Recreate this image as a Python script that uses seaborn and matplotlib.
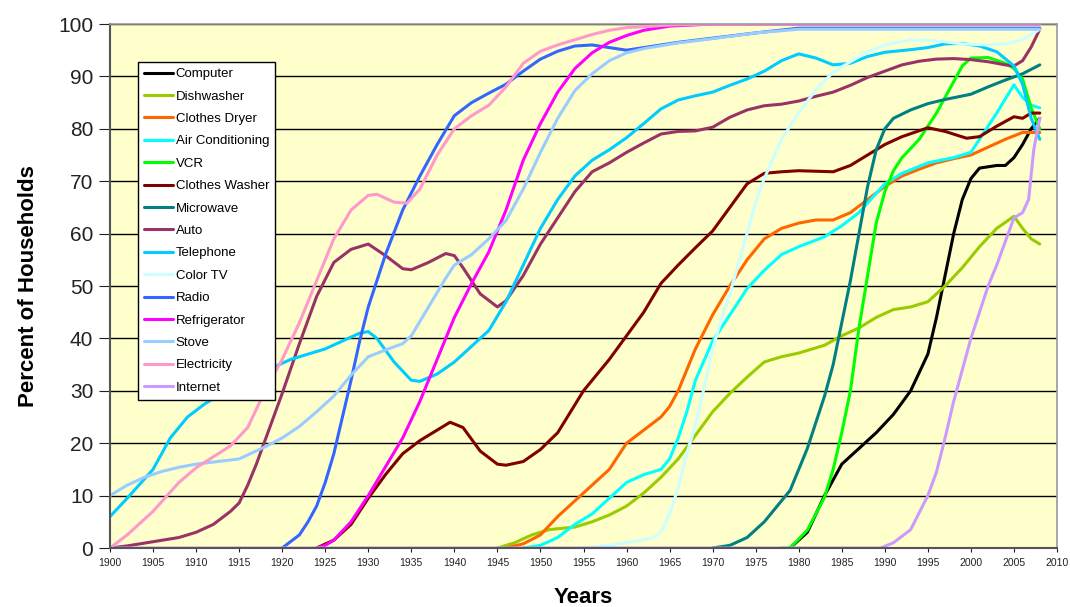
import pandas as pd
import matplotlib
matplotlib.use("Agg")
import matplotlib.pyplot as plt
import seaborn as sns

# Household adoption data (percent of households)
computer_years = [1979, 1981, 1983, 1985, 1987, 1989, 1991, 1993, 1995, 1996, 1997, 1998, 1999, 2000, 2001, 2003, 2004, 2005, 2006, 2007, 2008]
computer_vals = [0, 3, 10, 16, 19, 22, 25.5, 30, 37, 44, 52, 60, 66.5, 70.5, 72.5, 73, 73, 74.5, 77, 80, 82]

dishwasher_years = [1945, 1947, 1949, 1951, 1954, 1956, 1958, 1960, 1962, 1964, 1966, 1968, 1970, 1972, 1974, 1976, 1978, 1980, 1983, 1985, 1987, 1989, 1991, 1993, 1995, 1997, 1999, 2001, 2003, 2005, 2006, 2007, 2008]
dishwasher_vals = [0, 1, 2.5, 3.5, 4, 5, 6.3, 8, 10.5, 13.5, 17, 21.5, 26, 29.5, 32.6, 35.5, 36.5, 37.2, 38.7, 40.5, 42, 44, 45.5, 46, 47, 50, 53.5, 57.5, 61, 63.3, 61, 59, 58]

dryer_years = [1946, 1948, 1950, 1952, 1954, 1956, 1958, 1960, 1962, 1964, 1965, 1966, 1968, 1970, 1972, 1974, 1976, 1978, 1980, 1982, 1984, 1986, 1988, 1990, 1992, 1994, 1996, 1998, 2000, 2002, 2004, 2006, 2008]
dryer_vals = [0, 0.8, 2.5, 6, 9, 12, 15, 20, 22.5, 25, 27, 30, 38, 44.5, 50, 55, 59, 61, 62, 62.6, 62.6, 64, 66.5, 69, 71, 72.3, 73.5, 74.3, 75, 76.5, 78, 79.3, 79.3]

aircon_years = [1948, 1950, 1952, 1954, 1956, 1958, 1960, 1962, 1964, 1965, 1966, 1967, 1968, 1970, 1972, 1974, 1976, 1978, 1980, 1983, 1985, 1987, 1990, 1992, 1995, 1998, 2000, 2001, 2003, 2005, 2006, 2007, 2008]
aircon_vals = [0, 0.5, 2, 4.5, 6.5, 9.5, 12.5, 14, 15, 17, 21, 26, 32, 39.5, 44.5, 49.5, 53, 56, 57.5, 59.4, 61.5, 64, 69.5, 71.5, 73.5, 74.5, 75.5, 78, 83, 88.4, 86, 84.5, 84]

vcr_years = [1978, 1979, 1981, 1983, 1984, 1985, 1986, 1987, 1988, 1989, 1990, 1991, 1992, 1994, 1996, 1998, 1999, 2000, 2002, 2004, 2005, 2006, 2007, 2008]
vcr_vals = [0, 0, 3.4, 9.7, 15, 22, 30, 42, 52, 62, 68, 72, 74.5, 78, 83, 89, 92, 93.5, 93.6, 92.5, 91.5, 89.5, 84, 80]

washer_years = [1924, 1926, 1928, 1930, 1932, 1934, 1936, 1938, 1939.5, 1941, 1943, 1945, 1946, 1948, 1950, 1952, 1955, 1958, 1960, 1962, 1964, 1966, 1968, 1970, 1972, 1974, 1976, 1978, 1980, 1984, 1986, 1988, 1990, 1992, 1995, 1997, 1999.5, 2001, 2003, 2005, 2006, 2007, 2008]
washer_vals = [0, 1.5, 4.5, 9.5, 14, 18, 20.5, 22.5, 24, 23, 18.5, 16, 15.8, 16.5, 18.8, 22, 30, 36, 40.5, 45, 50.5, 54, 57.3, 60.5, 65, 69.5, 71.5, 71.8, 72, 71.8, 73, 75, 77, 78.5, 80.2, 79.5, 78.2, 78.5, 80.5, 82.3, 82, 83, 83]

microwave_years = [1970, 1972, 1974, 1976, 1978, 1979, 1981, 1983, 1984, 1985, 1986, 1987, 1988, 1989, 1990, 1991, 1993, 1995, 1997, 2000, 2002, 2004, 2006, 2008]
microwave_vals = [0, 0.5, 2, 5, 9, 11, 19, 29, 35, 43, 51, 60, 69, 76, 80, 82, 83.6, 84.8, 85.6, 86.6, 88, 89.3, 90.5, 92.2]

auto_years = [1900, 1902, 1905, 1908, 1910, 1912, 1914, 1915, 1916, 1917, 1918, 1920, 1922, 1924, 1926, 1928, 1930, 1932, 1934, 1935, 1937, 1939, 1940, 1941, 1943, 1945, 1946, 1948, 1950, 1952, 1954, 1956, 1958, 1960, 1962, 1964, 1966, 1968, 1970, 1972, 1974, 1976, 1978, 1980, 1982, 1984, 1986, 1988, 1990, 1992, 1994, 1996, 1998, 2000, 2002, 2004, 2005, 2006, 2007, 2008]
auto_vals = [0, 0.4, 1.2, 2, 3, 4.5, 7, 8.6, 12, 16, 20.5, 29.5, 39, 48, 54.5, 57, 58, 55.8, 53.3, 53.1, 54.5, 56.2, 55.8, 53.5, 48.5, 46, 47.2, 52, 58, 63, 68, 71.8, 73.5, 75.5, 77.3, 79, 79.5, 79.6, 80.3, 82.2, 83.6, 84.4, 84.7, 85.3, 86.2, 87, 88.3, 89.8, 91, 92.2, 92.9, 93.3, 93.4, 93.2, 92.8, 92.2, 92, 93, 95.6, 99]

phone_years = [1900, 1902, 1905, 1907, 1909, 1911, 1913, 1915, 1917, 1919, 1921, 1923, 1925, 1927, 1929, 1930, 1931, 1933, 1935, 1936, 1938, 1940, 1942, 1944, 1946, 1948, 1950, 1952, 1954, 1956, 1958, 1960, 1962, 1964, 1966, 1968, 1970, 1972, 1974, 1976, 1978, 1980, 1982, 1984, 1986, 1988, 1990, 1993, 1995, 1997, 1999, 2001, 2003, 2005, 2006, 2007, 2008]
phone_vals = [6, 9.5, 15, 21, 25, 27.5, 29.5, 31, 33, 34.5, 36, 37, 38, 39.5, 41, 41.3, 40, 35.5, 32, 31.8, 33.2, 35.5, 38.5, 41.5, 47, 54, 61, 66.5, 71, 74, 76, 78.3, 81, 83.8, 85.5, 86.3, 87, 88.3, 89.5, 91, 93, 94.3, 93.5, 92.2, 92.5, 93.8, 94.6, 95.1, 95.5, 96.2, 96.3, 95.8, 94.7, 92, 88.5, 82, 78]

colortv_years = [1955, 1958, 1960, 1963, 1964, 1965, 1966, 1967, 1968, 1969, 1970, 1971, 1972, 1974, 1975, 1976, 1978, 1980, 1982, 1984, 1986, 1988, 1990, 1993, 1996, 1999, 2002, 2004, 2006, 2007, 2008]
colortv_vals = [0, 0.5, 1, 1.9, 3, 6.5, 11.5, 18, 23.5, 30.5, 38, 43.5, 48.5, 60, 66, 70.5, 78, 83, 87.5, 90.8, 92.8, 94.7, 96, 97, 96.8, 96.2, 96, 96.2, 97, 98, 99]

radio_years = [1920, 1922, 1923, 1924, 1925, 1926, 1927, 1928, 1929, 1930, 1931, 1932, 1934, 1936, 1938, 1940, 1942, 1944, 1946, 1948, 1950, 1952, 1954, 1956, 1958, 1960, 1962, 1966, 1970, 1975, 1980, 2008]
radio_vals = [0, 2.5, 5, 8, 12.5, 18, 25, 32, 39.5, 46, 51, 56, 64.5, 71, 77, 82.5, 85, 86.8, 88.5, 91, 93.3, 94.8, 95.8, 96, 95.5, 95, 95.5, 96.5, 97.3, 98.3, 99.2, 99.2]

fridge_years = [1924, 1925, 1926, 1928, 1930, 1932, 1934, 1936, 1938, 1940, 1942, 1944, 1946, 1948, 1950, 1952, 1954, 1956, 1958, 1960, 1962, 1965, 1970, 2008]
fridge_vals = [0, 0.5, 1.5, 5, 10, 15.5, 21, 28, 36, 44, 50.5, 56.5, 64.5, 74, 81, 87, 91.5, 94.5, 96.5, 97.8, 98.8, 99.6, 100, 100]

stove_years = [1900, 1902, 1904, 1906, 1908, 1910, 1912, 1915, 1918, 1920, 1922, 1924, 1926, 1928, 1930, 1932, 1934, 1935, 1937, 1939, 1940, 1942, 1944, 1946, 1948, 1950, 1952, 1954, 1956, 1958, 1960, 1962, 1966, 1970, 1975, 1980, 2008]
stove_vals = [10, 12, 13.5, 14.6, 15.4, 16, 16.4, 17, 19.3, 21, 23.2, 26, 29, 33, 36.5, 37.8, 39, 40.5, 46, 51.5, 54, 56, 59, 62.5, 68.5, 75.5, 82, 87.3, 90.5, 93, 94.5, 95.3, 96.4, 97.2, 98.3, 99, 99]

electric_years = [1900, 1902, 1905, 1908, 1910, 1912, 1914, 1916, 1918, 1920, 1922, 1924, 1926, 1928, 1930, 1931, 1933, 1934.5, 1936, 1938, 1940, 1942, 1944, 1946, 1948, 1950, 1952, 1954, 1956, 1958, 1960, 1965, 1970, 2008]
electric_vals = [0, 2.5, 7, 12.5, 15.3, 17.4, 19.5, 23, 30, 36, 43, 51, 59, 64.5, 67.3, 67.5, 66, 65.8, 68.5, 75, 80, 82.5, 84.5, 88, 92.5, 94.8, 96, 97, 98, 98.8, 99.3, 99.8, 100, 100]

internet_years = [1900, 1989.5, 1991, 1993, 1995, 1996, 1997, 1998, 1999, 2000, 2001, 2002, 2003, 2004, 2005, 2006, 2006.7, 2007.3, 2008]
internet_vals = [0, 0, 1, 3.5, 10, 14.5, 21, 28, 34, 40, 45, 50, 54, 58.5, 63, 64, 66.5, 76, 82]

series = {
    "Computer": (computer_years, computer_vals),
    "Dishwasher": (dishwasher_years, dishwasher_vals),
    "Clothes Dryer": (dryer_years, dryer_vals),
    "Air Conditioning": (aircon_years, aircon_vals),
    "VCR": (vcr_years, vcr_vals),
    "Clothes Washer": (washer_years, washer_vals),
    "Microwave": (microwave_years, microwave_vals),
    "Auto": (auto_years, auto_vals),
    "Telephone": (phone_years, phone_vals),
    "Color TV": (colortv_years, colortv_vals),
    "Radio": (radio_years, radio_vals),
    "Refrigerator": (fridge_years, fridge_vals),
    "Stove": (stove_years, stove_vals),
    "Electricity": (electric_years, electric_vals),
    "Internet": (internet_years, internet_vals),
}

colors = ["#000000", "#99CC00", "#FF6600", "#00FFFF", "#00FF00", "#800000", "#008080",
          "#993366", "#00CCFF", "#CCFFFF", "#3366FF", "#FF00FF", "#99CCFF", "#FF99CC", "#CC99FF"]

# Long format table
rows = []
for name, (yrs, vals) in series.items():
    for x, v in zip(yrs, vals):
        rows.append({"Year": x, "Percent": v, "Item": name})
df = pd.DataFrame(rows)

sns.set_style("white")
plt.rcParams["font.family"] = ["Liberation Sans", "DejaVu Sans"]
plt.rcParams["text.color"] = "black"
plt.rcParams["axes.labelcolor"] = "black"
plt.rcParams["xtick.color"] = "#222222"
plt.rcParams["ytick.color"] = "#222222"

fig = plt.figure(figsize=(10.7, 6.07), dpi=100)
ax = fig.add_axes([110 / 1070, 59 / 607, 947 / 1070, 524 / 607])
ax.set_facecolor("#FFFFCC")

names = list(series.keys())
sns.lineplot(data=df, x="Year", y="Percent", hue="Item", hue_order=names,
             palette=dict(zip(names, colors)), estimator=None, linewidth=2.2, ax=ax)

ax.set_xlim(1900, 2010)
ax.set_ylim(0, 100)
ax.set_xticks(range(1900, 2011, 5))
ax.set_yticks(range(0, 101, 10))
ax.tick_params(axis="x", labelsize=7.5, length=3, direction="out", pad=4, bottom=True)
ax.tick_params(axis="y", labelsize=15, length=8, direction="out", pad=4, left=True)
ax.yaxis.grid(True, color="black", linewidth=1)
ax.set_axisbelow(True)
for side in ["left", "bottom"]:
    ax.spines[side].set_color("#555555")
    ax.spines[side].set_linewidth(1.5)
for side in ["top", "right"]:
    ax.spines[side].set_color("#999999")
    ax.spines[side].set_linewidth(1.2)

ax.set_xlabel("Years", fontsize=16, fontweight="bold", labelpad=14)
ax.set_ylabel("Percent of Households", fontsize=16, fontweight="bold", labelpad=14)

handles, labels = ax.get_legend_handles_labels()
leg = ax.legend(handles, labels, loc="upper left", bbox_to_anchor=(28 / 947, (548 - 62) / 524),
                borderaxespad=0, fontsize=9.5, handlelength=2.2, handletextpad=0.2,
                labelspacing=0.77, borderpad=0.45, frameon=True, fancybox=False)
leg.get_frame().set_edgecolor("black")
leg.get_frame().set_facecolor("white")
leg.get_frame().set_alpha(1)
leg.get_frame().set_linewidth(1)

fig.savefig("out.png", dpi=100)
